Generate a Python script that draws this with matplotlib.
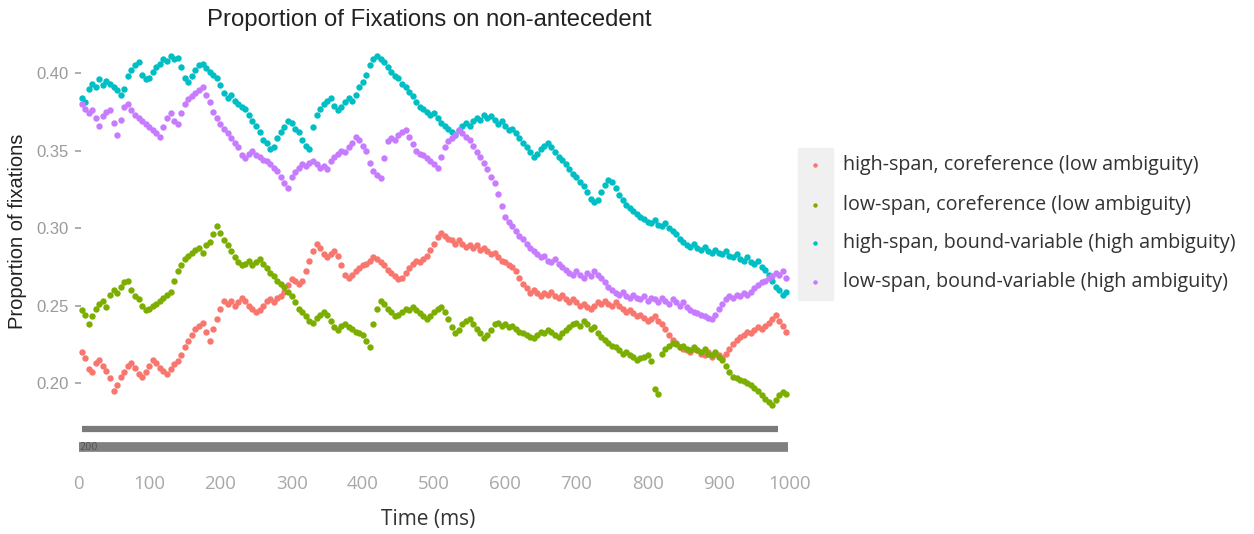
import numpy as np
import matplotlib
matplotlib.use("Agg")
import matplotlib.pyplot as plt
from matplotlib.patches import Rectangle

# time bins (ms)
time_ms = np.arange(5, 1000, 5)

# proportions, in thousandths (one value every 5 ms)
high_coref = [
    220, 216, 209, 207, 213, 215, 211, 208, 203, 195,
    199, 204, 207, 211, 213, 210, 206, 204, 207, 211,
    215, 213, 210, 208, 206, 209, 212, 214, 218, 223,
    227, 231, 235, 237, 239, 233, 227, 235, 241, 248,
    253, 251, 253, 250, 252, 255, 253, 250, 248, 246,
    247, 250, 253, 254, 252, 255, 256, 259, 263, 267,
    266, 264, 266, 272, 279, 285, 290, 287, 283, 281,
    283, 285, 282, 276, 270, 268, 270, 272, 274, 276,
    277, 279, 281, 280, 278, 276, 273, 271, 269, 267,
    268, 271, 274, 277, 279, 278, 280, 282, 286, 290,
    294, 297, 295, 293, 292, 290, 292, 290, 288, 289,
    287, 289, 286, 287, 285, 283, 284, 281, 279, 278,
    276, 275, 272, 268, 264, 261, 258, 260, 258, 256,
    258, 257, 259, 256, 255, 257, 254, 252, 254, 252,
    250, 251, 249, 248, 250, 252, 251, 253, 251, 250,
    252, 250, 248, 246, 247, 245, 243, 244, 242, 240,
    241, 243, 240, 238, 235, 231, 228, 226, 223, 222,
    221, 220, 222, 221, 219, 218, 220, 217, 219, 218,
    216, 219, 222, 225, 228, 230, 231, 233, 232, 234,
    236, 235, 237, 239, 241, 244, 240, 237, 233,
]
low_coref = [
    247, 244, 238, 243, 248, 251, 253, 249, 257, 260,
    258, 262, 265, 266, 260, 256, 254, 250, 247, 248,
    250, 251, 253, 255, 257, 259, 266, 272, 276, 280,
    282, 284, 286, 287, 284, 289, 291, 296, 301, 297,
    292, 289, 285, 281, 278, 276, 277, 279, 276, 278,
    280, 277, 274, 271, 269, 266, 264, 262, 259, 256,
    252, 248, 246, 243, 240, 239, 242, 244, 246, 244,
    240, 236, 234, 237, 238, 236, 235, 233, 232, 231,
    227, 223, 238, 248, 253, 251, 248, 246, 243, 244,
    246, 248, 247, 249, 247, 245, 243, 241, 243, 246,
    248, 249, 246, 241, 236, 232, 234, 238, 240, 241,
    238, 235, 232, 229, 231, 234, 238, 239, 237, 238,
    236, 237, 235, 233, 232, 231, 230, 229, 231, 233,
    232, 234, 233, 231, 230, 232, 234, 236, 238, 239,
    237, 240, 238, 235, 236, 232, 230, 228, 226, 224,
    223, 221, 219, 220, 218, 217, 215, 216, 217, 218,
    214, 196, 193, 219, 222, 224, 226, 225, 223, 224,
    222, 221, 223, 221, 220, 222, 219, 218, 220, 217,
    215, 211, 207, 204, 203, 202, 201, 200, 199, 197,
    195, 192, 190, 188, 186, 189, 192, 194, 193,
]
high_bound = [
    384, 381, 390, 393, 391, 396, 392, 395, 393, 391,
    389, 386, 390, 398, 402, 405, 407, 399, 396, 397,
    401, 404, 406, 409, 408, 411, 409, 410, 404, 397,
    394, 398, 402, 405, 406, 403, 401, 399, 397, 392,
    387, 384, 386, 382, 380, 378, 377, 373, 369, 366,
    362, 357, 355, 351, 352, 358, 362, 365, 369, 368,
    364, 362, 357, 353, 351, 365, 373, 377, 380, 382,
    384, 379, 376, 378, 381, 384, 382, 386, 391, 394,
    399, 405, 409, 411, 409, 407, 404, 401, 398, 397,
    393, 391, 388, 385, 381, 378, 377, 375, 373, 374,
    371, 368, 366, 364, 362, 360, 363, 366, 368, 366,
    369, 371, 370, 373, 371, 372, 370, 367, 369, 366,
    363, 364, 361, 358, 355, 352, 349, 346, 348, 351,
    353, 355, 352, 349, 346, 344, 341, 338, 335, 333,
    330, 327, 323, 319, 317, 318, 323, 328, 331, 330,
    326, 321, 318, 315, 313, 311, 309, 307, 306, 304,
    303, 305, 302, 301, 303, 300, 298, 296, 293, 291,
    289, 288, 290, 287, 286, 288, 285, 284, 286, 284,
    283, 285, 282, 281, 283, 280, 279, 281, 278, 277,
    279, 275, 273, 270, 266, 262, 260, 257, 259,
]
low_bound = [
    380, 377, 374, 376, 371, 366, 372, 375, 376, 368,
    360, 370, 378, 380, 376, 373, 371, 369, 367, 365,
    363, 361, 359, 365, 371, 374, 369, 367, 374, 380,
    383, 385, 387, 389, 391, 386, 381, 375, 371, 367,
    364, 361, 358, 355, 352, 347, 345, 348, 350, 347,
    346, 344, 343, 341, 339, 337, 333, 329, 326, 333,
    336, 339, 341, 340, 342, 343, 341, 339, 340, 338,
    343, 346, 348, 350, 349, 352, 355, 359, 357, 353,
    350, 342, 337, 334, 332, 345, 356, 358, 357, 360,
    362, 363, 359, 354, 350, 348, 347, 345, 343, 341,
    339, 346, 352, 356, 358, 360, 363, 361, 359, 357,
    353, 349, 346, 342, 338, 333, 329, 322, 314, 307,
    304, 301, 298, 295, 293, 290, 287, 285, 283, 281,
    282, 279, 278, 280, 277, 275, 273, 271, 270, 272,
    270, 268, 271, 269, 272, 270, 268, 265, 262, 260,
    258, 257, 259, 256, 255, 257, 255, 254, 256, 253,
    255, 254, 252, 255, 253, 251, 254, 252, 250, 252,
    249, 247, 246, 245, 244, 243, 242, 241, 244, 248,
    251, 254, 256, 255, 257, 256, 258, 257, 259, 261,
    263, 265, 266, 268, 269, 271, 270, 272, 268,
]

labels = [
    "high-span, coreference (low ambiguity)",
    "low-span, coreference (low ambiguity)",
    "high-span, bound-variable (high ambiguity)",
    "low-span, bound-variable (high ambiguity)",
]
colors = ["#F8766D", "#7CAE00", "#00BFC4", "#C77CFF"]
series = [high_coref, low_coref, high_bound, low_bound]

x_ticks = [0, 100, 200, 300, 400, 500, 600, 700, 800, 900, 1000]
y_ticks = [0.20, 0.25, 0.30, 0.35, 0.40]

W, H = 1254, 534
fig = plt.figure(figsize=(W / 100, H / 100), dpi=100)
ax = fig.add_axes([74 / W, 1 - 465 / H, 720 / W, 420 / H])
# move the y axis line a little right, before the ticks are styled
ax.spines["left"].set_position(("data", 4.5))

for vals, col in zip(series, colors):
    ax.plot(time_ms, np.array(vals) / 1000, "o", ms=4.6, mew=0,
            color=col, clip_on=False)

# the two grey strips under the points
ax.hlines(0.1703, 5, 983, color="#7a7a7a", lw=4.5)
ax.hlines(0.1587, 2, 997, color="#808080", lw=7)
ax.text(2, 0.1587, "200", fontsize=7, color="#555555", va="center",
        family="DejaVu Sans")

ax.set_xlim(-5.6, 1005.6)
ax.set_ylim(0.1471, 0.4181)
ax.set_xticks(x_ticks)
ax.set_xticklabels([str(v) for v in x_ticks], family="Open Sans",
                   fontsize=13.4, color="#a8a8a8")
ax.set_yticks(y_ticks)
ax.set_yticklabels([f"{v:.2f}" for v in y_ticks], family="Liberation Sans",
                   fontsize=12, color="#9a9a9a")
ax.tick_params(axis="x", length=0, pad=7)
ax.tick_params(axis="y", length=4, width=1.2, color="#a0a0a0", pad=5)
for s in ax.spines.values():
    s.set_visible(False)

fig.text(429 / W, 1 - 20 / H, "Proportion of Fixations on non-antecedent",
         ha="center", va="center", fontsize=17.2, color="#222222",
         family="Liberation Sans")
fig.text(428 / W, 1 - 520 / H, "Time (ms)", ha="center", va="center",
         fontsize=15, color="#333333", family="Open Sans")
fig.text(18 / W, 1 - 231 / H, "Proportion of fixations", rotation=90,
         ha="center", va="center", fontsize=14.5, color="#222222",
         family="Liberation Sans")

# legend, ggplot style with grey key boxes
row_y = [165, 205, 243, 282]
fig.patches.append(Rectangle((798 / W, 1 - 300 / H), 35 / W, 152 / H,
                             transform=fig.transFigure, color="#f0f0f0",
                             zorder=0))
for yy, lab, col in zip(row_y, labels, colors):
    fig.lines.append(plt.Line2D([815 / W], [1 - yy / H], marker="o", ms=3.2,
                                mew=0, color=col, transform=fig.transFigure))
    fig.text(843 / W, 1 - yy / H, lab, ha="left", va="center",
             fontsize=14.2, color="#333333", family="Open Sans")

fig.savefig("out.png", dpi=100)
